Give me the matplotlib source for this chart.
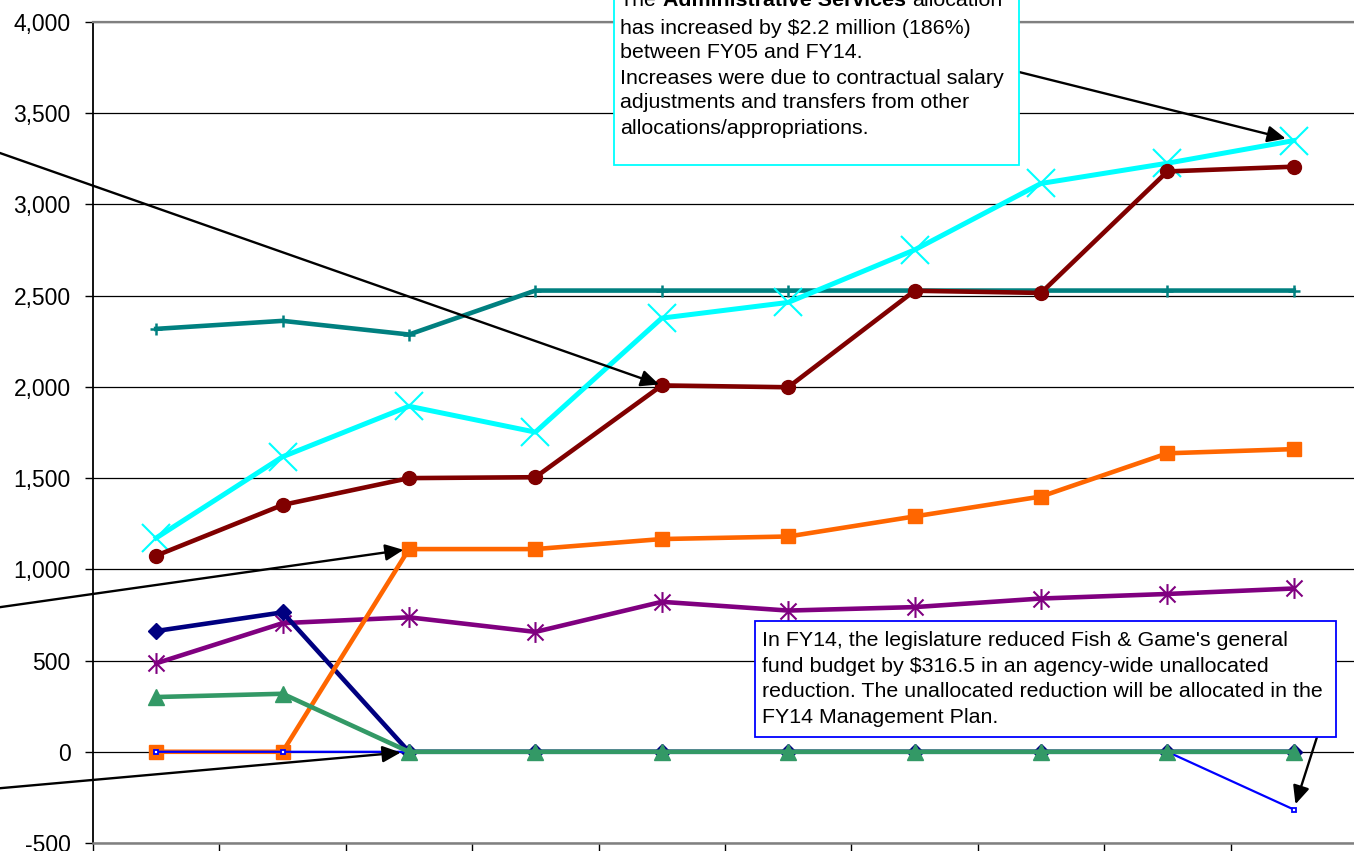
import numpy as np
import matplotlib
matplotlib.use("Agg")
import matplotlib.pyplot as plt
from matplotlib.path import Path
from matplotlib.patches import Rectangle
from matplotlib.ticker import FuncFormatter, MultipleLocator

plt.rcParams['font.family'] = ['Liberation Sans', 'DejaVu Sans']

# fiscal years on the x axis (labels fall below the visible area)
years = ['FY05', 'FY06', 'FY07', 'FY08', 'FY09', 'FY10', 'FY11', 'FY12', 'FY13', 'FY14']

# allocations (thousands of $)
teal_alloc = [2318, 2362, 2287, 2528, 2528, 2528, 2528, 2528, 2528, 2528]
admin_services = [1172, 1617, 1894, 1752, 2377, 2463, 2751, 3115, 3226, 3350]
maroon_alloc = [1075, 1353, 1500, 1505, 2008, 1998, 2527, 2515, 3181, 3207]
purple_alloc = [485, 705, 737, 657, 822, 774, 793, 840, 865, 895]
navy_alloc = [662, 764, 0, 0, 0, 0, 0, 0, 0, 0]
orange_alloc = [0, 0, 1111, 1111, 1166, 1180, 1290, 1399, 1636, 1659]
unallocated = [0, 0, 0, 0, 0, 0, 0, 0, 0, -316.5]
green_alloc = [300, 318, 0, 0, 0, 0, 0, 0, 0, 0]

W, H = 1354, 851
fig = plt.figure(figsize=(W / 100, H / 100), dpi=100)
ax = fig.add_axes([93 / W, 8 / H, 1264 / W, 821 / H])

x = np.arange(len(years))

# excel style asterisk marker
star = Path([(-1, -1), (1, 1), (-1, 1), (1, -1), (0, -1.3), (0, 1.3)],
            [Path.MOVETO, Path.LINETO, Path.MOVETO, Path.LINETO, Path.MOVETO, Path.LINETO])

lw = 3.3
ax.plot(x, teal_alloc, color='#008080', lw=lw, marker='+', ms=9, mew=1.8)
ax.plot(x, admin_services, color='#00FFFF', lw=lw + 0.3, marker='x', ms=20, mew=1.5)
ax.plot(x, maroon_alloc, color='#800000', lw=lw, marker='o', ms=10)
ax.plot(x, purple_alloc, color='#800080', lw=lw, marker=star, ms=15, mew=1.5, mfc='none')
ax.plot(x, navy_alloc, color='#000080', lw=lw, marker='D', ms=8)
ax.plot(x, orange_alloc, color='#FF6600', lw=lw, marker='s', ms=10.5)
ax.plot(x, unallocated, color='#0000FF', lw=1.6, marker='s', ms=3.5, mfc='white', mew=1.3)
ax.plot(x, green_alloc, color='#339966', lw=lw, marker='^', ms=11)

ax.set_xlim(-0.5, 9.5)
ax.set_ylim(-500, 4000)
ax.yaxis.set_major_locator(MultipleLocator(500))
ax.yaxis.set_major_formatter(FuncFormatter(lambda v, p: f'{v:,.0f}'))
ax.grid(axis='y', color='black', lw=0.9)
ax.set_axisbelow(True)

ax.set_xticks(np.arange(-0.5, 10, 1))
ax.set_xticklabels([])
ax.tick_params(axis='both', which='major', direction='out', length=6, width=1,
               labelsize=16.5, pad=10)

ax.spines['right'].set_visible(False)
ax.spines['top'].set_color('#808080')
ax.spines['top'].set_linewidth(1.6)
ax.spines['bottom'].set_color('#808080')
ax.spines['bottom'].set_linewidth(1.8)
ax.spines['left'].set_linewidth(1.3)


def fx(px):
    return px / W


def fy(py):
    return (H - py) / H


arrow = dict(arrowstyle='-|>,head_length=0.55,head_width=0.25', color='black',
             lw=1.7, mutation_scale=20, shrinkA=0)

# arrows coming from call-outs (some start off the left edge)
ax.annotate('', xy=(9, admin_services[9]), xytext=(1019, H - 72), textcoords='figure pixels',
            arrowprops=dict(arrow, shrinkB=6), annotation_clip=False)
ax.annotate('', xy=(4, maroon_alloc[4]), xytext=(-20, H - 146), textcoords='figure pixels',
            arrowprops=dict(arrow, shrinkB=2), annotation_clip=False)
ax.annotate('', xy=(2, orange_alloc[2]), xytext=(-20, H - 610), textcoords='figure pixels',
            arrowprops=dict(arrow, shrinkB=4), annotation_clip=False)
ax.annotate('', xy=(2, unallocated[2]), xytext=(-20, H - 790), textcoords='figure pixels',
            arrowprops=dict(arrow, shrinkB=6), annotation_clip=False)
ax.annotate('', xy=(9, unallocated[9]), xytext=(1317, H - 737), textcoords='figure pixels',
            arrowprops=dict(arrow, shrinkB=4), annotation_clip=False)

fs = 15.4

# call-out 1: administrative services
fig.add_artist(Rectangle((fx(614), fy(165)), (1019 - 614) / W, 175 / H, transform=fig.transFigure,
                         fc='white', ec='#00FFFF', lw=1.3, zorder=5))
t1 = fig.text(fx(620), fy(6), 'The', fontsize=fs, va='baseline', zorder=6)
t2 = fig.text(0, 0, 'Administrative Services', fontsize=fs, fontweight='bold', va='baseline', zorder=6)
t3 = fig.text(0, 0, 'allocation', fontsize=fs, va='baseline', zorder=6)
r = fig.canvas.get_renderer()
space = fs * 0.278 * 100 / 72
bb = t1.get_window_extent(r)
t2.set_position((fx(bb.x1 + space), fy(6)))
bb = t2.get_window_extent(r)
t3.set_position((fx(bb.x1 + space), fy(6)))
admin_lines = ['has increased by $2.2 million (186%)',
               'between FY05 and FY14.',
               'Increases were due to contractual salary',
               'adjustments and transfers from other',
               'allocations/appropriations.']
for i, line in enumerate(admin_lines):
    fig.text(fx(620), fy(33.5 + 25 * i), line, fontsize=fs, va='baseline', zorder=6)

# call-out 2: unallocated reduction
fig.add_artist(Rectangle((fx(755), fy(737)), (1336 - 755) / W, (737 - 621) / H, transform=fig.transFigure,
                         fc='white', ec='#0000FF', lw=1.3, zorder=5))
cut_lines = ["In FY14, the legislature reduced Fish & Game's general",
             'fund budget by $316.5 in an agency-wide unallocated',
             'reduction. The unallocated reduction will be allocated in the',
             'FY14 Management Plan.']
for i, line in enumerate(cut_lines):
    fig.text(fx(762), fy(646 + 25.7 * i), line, fontsize=fs, va='baseline', zorder=6)

fig.savefig('out.png', dpi=100)
